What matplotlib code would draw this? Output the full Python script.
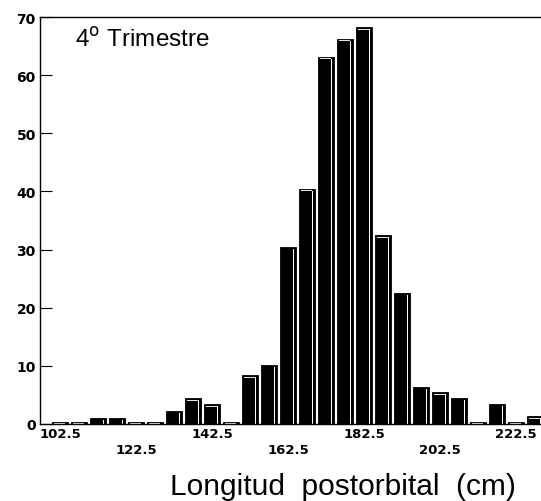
import numpy as np
import matplotlib.pyplot as plt

# class midpoints (cm) and counts
longitud = [102.5, 107.5, 112.5, 117.5, 122.5, 127.5, 132.5, 137.5, 142.5,
            147.5, 152.5, 157.5, 162.5, 167.5, 172.5, 177.5, 182.5, 187.5,
            192.5, 197.5, 202.5, 207.5, 212.5, 217.5, 222.5, 227.5]
frecuencia = [0.3, 0.3, 1.1, 1.1, 0.3, 0.3, 2.3, 4.4, 3.4,
              0.3, 8.4, 10.2, 30.5, 40.5, 63.2, 66.3, 68.3, 32.5,
              22.6, 6.4, 5.5, 4.5, 0.3, 3.5, 0.3, 1.3]
xticks = [102.5, 122.5, 142.5, 162.5, 182.5, 202.5, 222.5]
yticks = [0, 10, 20, 30, 40, 50, 60, 70]

fig = plt.figure(figsize=(5.41, 5.02), dpi=100)
ax = fig.add_axes([40 / 541, 77 / 502, 501 / 541, 407 / 502])

x = np.array(longitud)
h = np.array(frecuencia)

# dark bars with a thin white highlight to mimic the pseudo-3D look
ax.bar(x, h, width=4.2, color="black", edgecolor="black", linewidth=0.6)
ax.bar(x + 1.35, np.maximum(h - 0.35, 0), width=0.3, color="white", linewidth=0)
ax.bar(x - 0.1, 0.12, bottom=np.maximum(h - 0.45, 0),
       width=3.0, color="white", linewidth=0, alpha=0.9)

ax.set_xlim(97.24, 229.08)
ax.set_ylim(0, 70)

ax.spines["right"].set_visible(False)
for s in ["left", "top", "bottom"]:
    ax.spines[s].set_linewidth(1.0)

ax.set_yticks(yticks)
ax.set_yticklabels([str(v) for v in yticks], fontsize=10, fontweight="bold")
ax.tick_params(axis="y", direction="in", length=8.5, width=0.8, pad=3)

ax.set_xticks(xticks)
ax.set_xticklabels(xticks, fontsize=9.5, fontweight="bold")
ax.tick_params(axis="x", length=0, pad=2)
for t in ax.xaxis.get_major_ticks()[1::2]:
    t.set_pad(14)

ax.text(0.07, 0.975, r"4$^{\rm o}$ Trimestre", transform=ax.transAxes,
        fontsize=17.5, family="Liberation Sans", va="top", ha="left")

fig.text(343 / 541, 15 / 502, "Longitud  postorbital  (cm)", fontsize=21.5,
         family="Liberation Sans", ha="center", va="center")

fig.savefig("out.png", dpi=100)
